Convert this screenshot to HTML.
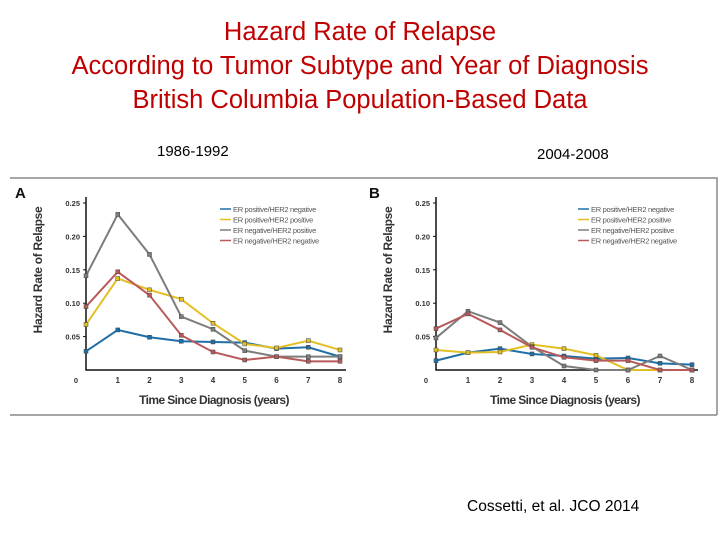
<!DOCTYPE html>
<html><head><meta charset="utf-8"><style>
body{margin:0;width:720px;height:540px;background:#fff;overflow:hidden;font-family:"Liberation Sans",sans-serif;}
.t{position:absolute;left:0;width:720px;text-align:center;color:#c00000;font-size:25.5px;}
.lab{position:absolute;font-size:15px;color:#000;}
</style></head><body>
<div class="t" style="top:18px">Hazard Rate of Relapse</div>
<div class="t" style="top:52px">According to Tumor Subtype and Year of Diagnosis</div>
<div class="t" style="top:86px">British Columbia Population-Based Data</div>
<div class="lab" style="left:157px;top:143px">1986-1992</div>
<div class="lab" style="left:537px;top:146px">2004-2008</div>
<div class="lab" style="left:467px;top:498px;font-size:15.5px">Cossetti, et al.  JCO 2014</div>
<svg id="chart" width="720" height="540" style="position:absolute;left:0;top:0"></svg>
<script>
const years=[0,1,2,3,4,5,6,7,8];
const yTicks=[0.05,0.10,0.15,0.20,0.25];
const yTickLabels=["0.05","0.10","0.15","0.20","0.25"];
const seriesNames=["ER positive/HER2 negative","ER positive/HER2 positive","ER negative/HER2 positive","ER negative/HER2 negative"];
const seriesColors=["#1f6fa6","#e2bf22","#7d7d7d","#b85a5a"];
const aBlue=[0.028,0.060,0.049,0.043,0.042,0.041,0.032,0.034,0.020];
const aYellow=[0.068,0.137,0.120,0.106,0.070,0.039,0.033,0.044,0.030];
const aGray=[0.141,0.233,0.173,0.080,0.061,0.029,0.020,0.020,0.020];
const aRed=[0.095,0.147,0.112,0.052,0.027,0.015,0.020,0.013,0.013];
const bBlue=[0.014,0.026,0.032,0.024,0.021,0.017,0.018,0.010,0.008];
const bYellow=[0.030,0.026,0.027,0.038,0.032,0.022,0,0,0];
const bGray=[0.048,0.088,0.071,0.035,0.006,0,0,0.021,0];
const bRed=[0.062,0.084,0.060,0.034,0.019,0.014,0.014,0,0];
const NS="http://www.w3.org/2000/svg";
const svg=document.getElementById('chart');
function mk(tag,attrs,parent){const e=document.createElementNS(NS,tag);for(const k in attrs)e.setAttribute(k,attrs[k]);(parent||svg).appendChild(e);return e;}
let fr=mk('path',{d:"M10 178 H717 V415 M10 415 H717",stroke:"#888",fill:"none","stroke-width":1.5});


function panel(id,letter,x0,step,letterX,legX,data){
  const g=mk('g',{});
  
  
  const y0=370,ppu=668;
  const X=v=>x0+v*step, Y=v=>y0-v*ppu;
  let L=mk('text',{x:letterX,y:198,"font-size":15,"font-weight":"bold",fill:"#111"},g);L.textContent=letter;
  
  
  let ax=mk('path',{d:`M${x0} 197 V${y0} H${X(8)+6}`,stroke:"#111",fill:"none","stroke-width":1.5},g);
  
  
  yTicks.forEach((t,i)=>{let tx=mk('text',{x:x0-6,y:Y(t)+3,"font-size":7.5,"font-weight":"bold","text-anchor":"end",fill:"#333"},g);tx.textContent=yTickLabels[i];
    
    
    mk('line',{x1:x0-3,x2:x0,y1:Y(t),y2:Y(t),stroke:"#111"},g);});
  let z=mk('text',{x:x0-10,y:383,"font-size":7.5,"font-weight":"bold","text-anchor":"middle",fill:"#333"},g);z.textContent="0";
  
  
  years.slice(1).forEach(t=>{let tx=mk('text',{x:X(t),y:383,"font-size":8,"font-weight":"bold","text-anchor":"middle",fill:"#333"},g);tx.textContent=t;
    
    });
  let xt=mk('text',{x:X(4)+1,y:404,"font-size":12,"font-weight":"bold","text-anchor":"middle",fill:"#333","letter-spacing":"-0.6"},g);xt.textContent="Time Since Diagnosis (years)";
  
  
  let yt=mk('text',{x:0,y:0,"font-size":12,"font-weight":"bold","text-anchor":"middle",fill:"#333","letter-spacing":"-0.3",transform:`translate(${x0-44},270) rotate(-90)`},g);yt.textContent="Hazard Rate of Relapse";
  
  
  data.forEach((d,si)=>{
    let p=mk('polyline',{points:d.map((v,i)=>X(years[i])+","+Y(v)).join(" "),fill:"none",stroke:seriesColors[si],"stroke-width":2},g);
    
    
    d.forEach((v,i)=>{let m=mk('rect',{x:X(years[i])-2,y:Y(v)-2,width:4,height:4,fill:seriesColors[si],stroke:"#444","stroke-width":0.5},g);
      
      });
  });
  seriesNames.forEach((n,si)=>{const ly=209+si*10.5;
    let ln=mk('line',{x1:legX,x2:legX+11,y1:ly,y2:ly,stroke:seriesColors[si],"stroke-width":1.5},g);
    
    
    let tx=mk('text',{x:legX+13,y:ly+3,"font-size":7.5,fill:"#555","letter-spacing":"-0.3"},g);tx.textContent=n;
    
    });
}
panel('a','A',86,31.75,15,220,[aBlue,aYellow,aGray,aRed]);
panel('b','B',436,32,369,578,[bBlue,bYellow,bGray,bRed]);
</script>
</body></html>
